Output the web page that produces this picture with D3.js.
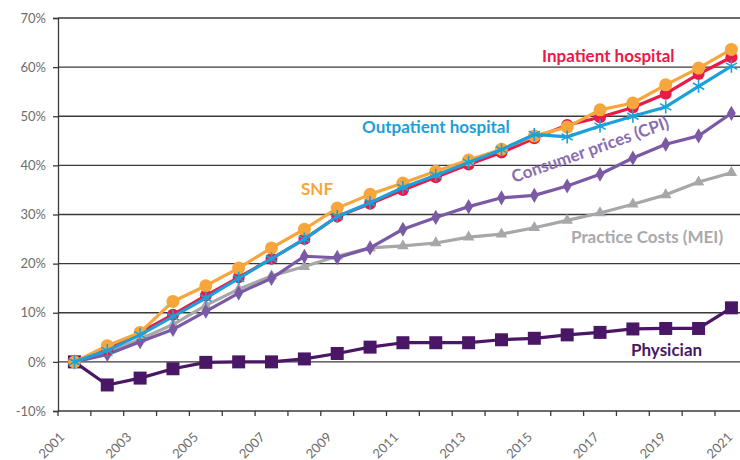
<!DOCTYPE html>
<html>
<head>
<meta charset="utf-8">
<script src="https://d3js.org/d3.v7.min.js"></script>
<style>
    body {margin: 0; background: #fff;}
    text {font-family: Lato, "Noto Sans", sans-serif;}
    .tick-label {fill: #6d6d6d; font-size: 13px;}
    .series-label {font-weight: bold; font-size: 17px;}
</style>
</head>
<body>
<svg width="740" height="460"></svg>
<script>
    // years on the category axis
    const years = d3.range(2001, 2022);
    const yTicks = [-10, 0, 10, 20, 30, 40, 50, 60, 70];

    // cumulative change since 2001, in percent
    const physician  = [0, -4.7, -3.3, -1.4, -0.1, 0, 0, 0.6, 1.7, 3.0, 3.9, 3.9, 3.9, 4.5, 4.8, 5.5, 6.0, 6.7, 6.8, 6.8, 11.0];
    const mei        = [0, 1.8, 4.6, 7.6, 11.5, 14.8, 17.5, 19.4, 21.5, 23.2, 23.6, 24.2, 25.4, 26.0, 27.3, 28.8, 30.3, 32.1, 34.0, 36.6, 38.5];
    const cpi        = [0, 1.5, 4.1, 6.6, 10.3, 14.0, 17.0, 21.5, 21.2, 23.2, 27.0, 29.4, 31.6, 33.4, 33.9, 35.8, 38.2, 41.5, 44.3, 46.0, 50.6];
    const inpatient  = [0, 2.5, 6.0, 9.6, 13.5, 17.2, 21.0, 25.0, 29.6, 32.2, 35.0, 37.6, 40.2, 42.6, 45.5, 48.2, 49.8, 51.8, 54.6, 58.6, 62.0];
    const snf        = [0, 3.3, 6.0, 12.3, 15.5, 19.1, 23.2, 27.0, 31.3, 34.1, 36.4, 38.8, 41.1, 43.3, 46.0, 47.8, 51.3, 52.7, 56.4, 59.8, 63.6];
    const outpatient = [0, 2.3, 5.5, 9.2, 13.0, 17.0, 21.0, 25.0, 29.6, 32.4, 35.5, 38.0, 40.6, 43.2, 46.3, 45.8, 48.0, 50.0, 51.9, 56.1, 60.2];

    const svg = d3.select("svg");
    const plotLeft = 58, plotTop = 18, plotBottom = 411;

    var x = d3.scaleBand()
        .domain(years)
        .range([plotLeft, plotLeft + years.length * 32.85]);

    var y = d3.scaleLinear()
        .domain([-10, 70])
        .range([plotBottom, plotTop]);

    const cx = d => x(d) + x.bandwidth() / 2;

    // horizontal gridlines
    svg.append("g").selectAll("line")
        .data(yTicks)
        .enter().append("line")
        .attr("x1", plotLeft).attr("x2", 740)
        .attr("y1", d => y(d)).attr("y2", d => y(d))
        .attr("stroke", "#3a3a3a")
        .attr("stroke-width", 1.3);

    // y axis
    var yAxis = d3.axisLeft(y)
        .tickValues(yTicks)
        .tickSize(5)
        .tickFormat(d => d + "%");
    const gy = svg.append("g")
        .attr("transform", `translate(${plotLeft},0)`)
        .call(yAxis);
    gy.attr("font-family", null).attr("font-size", null);
    gy.select(".domain").attr("stroke", "#3a3a3a").attr("stroke-width", 1.3);
    gy.selectAll(".tick line").attr("stroke", "#3a3a3a").attr("stroke-width", 1.3);
    gy.selectAll(".tick text").attr("class", "tick-label").attr("x", -12);

    // x axis ticks sit between categories
    const xEnd = x.range()[1];
    svg.append("g").selectAll("line")
        .data(years.concat([2022]))
        .enter().append("line")
        .attr("x1", d => d === 2022 ? xEnd : x(d))
        .attr("x2", d => d === 2022 ? xEnd : x(d))
        .attr("y1", plotBottom).attr("y2", plotBottom + 5)
        .attr("stroke", "#3a3a3a")
        .attr("stroke-width", 1.3);

    // year labels, every other year, slanted
    svg.append("g").selectAll("text")
        .data(years.filter(d => d % 2 === 1))
        .enter().append("text")
        .attr("class", "tick-label")
        .attr("text-anchor", "end")
        .attr("transform", d => `translate(${cx(d) - 9 + (d - 2001) * 0.55},${plotBottom + 27}) rotate(-45)`)
        .text(d => d);

    // marker shapes
    const sym = {
        circle: r => d3.symbol(d3.symbolCircle, Math.PI * r * r)(),
        square: r => d3.symbol(d3.symbolSquare, 4 * r * r)(),
        diamond: r => d3.symbol(d3.symbolDiamond, 2.2 * r * r)(),
        triangle: r => d3.symbol(d3.symbolTriangle, 1.6 * r * r)(),
        asterisk: r => `M0,${-r}V${r}M${-r * 0.87},${-r * 0.5}L${r * 0.87},${r * 0.5}M${-r * 0.87},${r * 0.5}L${r * 0.87},${-r * 0.5}`
    };

    const series = [
        {name: "Physician", values: physician, color: "#4a1767", marker: "square", r: 6.5},
        {name: "MEI", values: mei, color: "#a7a7a9", marker: "triangle", r: 6},
        {name: "CPI", values: cpi, color: "#7a5aa4", marker: "diamond", r: 5.5},
        {name: "Inpatient", values: inpatient, color: "#ea1a48", marker: "circle", r: 6},
        {name: "SNF", values: snf, color: "#f7a63b", marker: "circle", r: 6.5},
        {name: "Outpatient", values: outpatient, color: "#1ba0da", marker: "asterisk", r: 6.5}
    ];

    var line = d3.line()
        .x((d, i) => cx(years[i]))
        .y(d => y(d));

    series.forEach(s => {
        const g = svg.append("g");
        g.append("path")
            .attr("d", line(s.values))
            .attr("fill", "none")
            .attr("stroke", s.color)
            .attr("stroke-width", 3.2)
            .attr("stroke-linejoin", "round");
        g.selectAll("path.m")
            .data(s.values)
            .enter().append("path")
            .attr("class", "m")
            .attr("transform", (d, i) => `translate(${cx(years[i])},${y(d)})`)
            .attr("d", sym[s.marker](s.r))
            .attr("fill", s.marker === "asterisk" ? "none" : s.color)
            .attr("stroke", s.marker === "asterisk" ? s.color : "none")
            .attr("stroke-width", 1.6);
    });

    // series labels
    const labels = [
        {text: "Inpatient hospital", x: 542, y: 62, color: "#ea1a48", angle: 0},
        {text: "Outpatient hospital", x: 362, y: 133, color: "#1ba0da", angle: 0},
        {text: "SNF", x: 301, y: 195, color: "#f7a63b", angle: 0},
        {text: "Consumer prices (CPI)", x: 514, y: 183, color: "#8a6db0", angle: -19.5},
        {text: "Practice Costs (MEI)", x: 571, y: 243, color: "#a9a9ac", angle: 0},
        {text: "Physician", x: 631, y: 356, color: "#4a1767", angle: 0}
    ];
    svg.append("g").selectAll("text")
        .data(labels)
        .enter().append("text")
        .attr("class", "series-label")
        .attr("transform", d => `translate(${d.x},${d.y}) rotate(${d.angle})`)
        .attr("fill", d => d.color)
        .text(d => d.text);
</script>
</body>
</html>
